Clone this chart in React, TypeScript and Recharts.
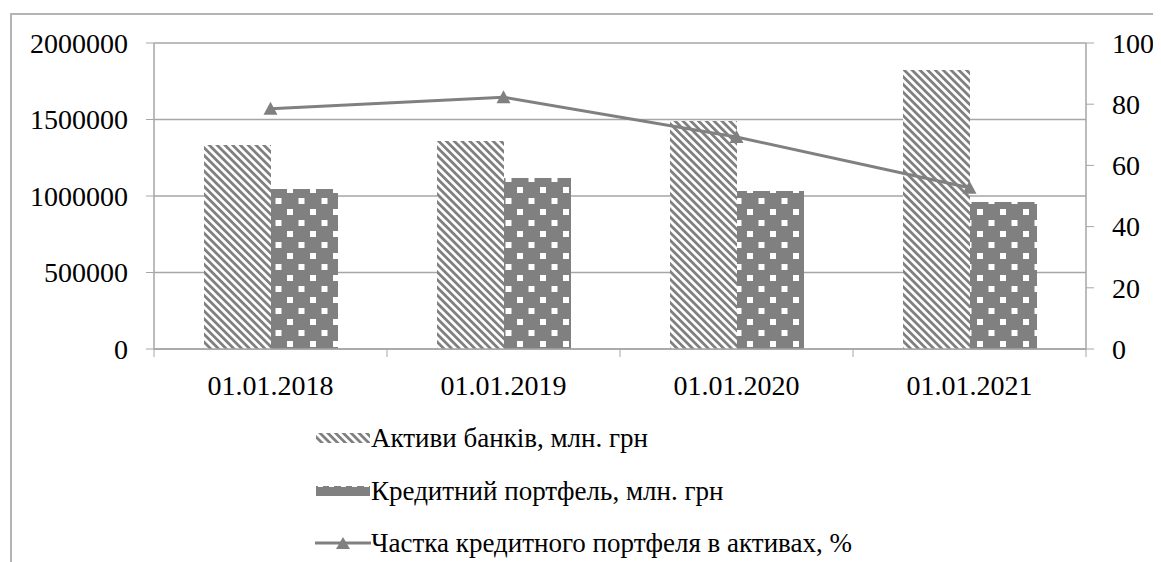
import { ComposedChart, Bar, Line, XAxis, YAxis, CartesianGrid } from "recharts";

const categories = ["01.01.2018", "01.01.2019", "01.01.2020", "01.01.2021"];
const assets = [1333000, 1359000, 1490000, 1823000];
const loans = [1046000, 1118000, 1033000, 961000];
const share = [78.5, 82.3, 69.3, 52.7];
const leftTicks = [0, 500000, 1000000, 1500000, 2000000];
const rightTicks = [0, 20, 40, 60, 80, 100];

const legendItems = [
  { key: "assets", label: "Активи банків, млн. грн", kind: "hatch" },
  { key: "loans", label: "Кредитний портфель, млн. грн", kind: "dots" },
  { key: "share", label: "Частка кредитного портфеля в активах, %", kind: "line" },
];

const data = categories.map((c, i) => ({
  date: c,
  assets: assets[i],
  loans: loans[i],
  share: share[i],
}));

const W = 1153;
const H = 554;
const PLOT_LEFT = 146;
const PLOT_RIGHT = 1078;
const PLOT_TOP = 35;
const PLOT_BOTTOM = 341;
const BAND = (PLOT_RIGHT - PLOT_LEFT) / categories.length;

const GRAY = "#808080";
const AXIS = "#a6a6a6";
const FONT = "Liberation Serif, DejaVu Serif, serif";

function XTick(props: any) {
  const { x, payload, index } = props;
  const isLast = index === categories.length - 1;
  return (
    <g>
      <line x1={x - BAND / 2} x2={x - BAND / 2} y1={PLOT_BOTTOM} y2={PLOT_BOTTOM + 8} stroke={AXIS} />
      {isLast && (
        <line x1={x + BAND / 2} x2={x + BAND / 2} y1={PLOT_BOTTOM} y2={PLOT_BOTTOM + 8} stroke={AXIS} />
      )}
      <text x={x} y={PLOT_BOTTOM + 36} dy="0.35em" textAnchor="middle" fill="#000" fontSize={28} style={{ fontFamily: FONT }}>
        {payload.value}
      </text>
    </g>
  );
}

function YTick(props: any) {
  const { x, y, payload, textAnchor } = props;
  return (
    <text x={x} y={y} dy="0.35em" textAnchor={textAnchor} fill="#000" fontSize={28} style={{ fontFamily: FONT }}>
      {payload.value}
    </text>
  );
}

function Triangle(props: any) {
  const { cx, cy } = props;
  if (cx == null || cy == null) return null;
  return <polygon points={`${cx - 7},${cy + 6} ${cx + 7},${cy + 6} ${cx},${cy - 7}`} fill={GRAY} />;
}

function LegendIcon({ kind }: { kind: string }) {
  if (kind === "line") {
    return (
      <svg width={56} height={16}>
        <line x1={0} x2={56} y1={8} y2={8} stroke={GRAY} strokeWidth={3} />
        <polygon points="21,14 35,14 28,2" fill={GRAY} />
      </svg>
    );
  }
  return (
    <svg width={56} height={16}>
      <rect x={1} y={3} width={54} height={10} fill={kind === "hatch" ? "url(#hatchLegend)" : "url(#dotsLegend)"} />
    </svg>
  );
}

export default function App() {
  return (
    <div style={{ position: "relative", width: W, height: H, fontFamily: FONT }}>
      <div
        style={{
          position: "absolute",
          left: 2,
          top: 5,
          width: W,
          height: H,
          borderTop: "2px solid #b4b4b4",
          borderLeft: "2px solid #b4b4b4",
        }}
      />
      <svg width={0} height={0} style={{ position: "absolute" }}>
        <defs>
          <pattern id="hatchLegend" patternUnits="userSpaceOnUse" width={5.5} height={5.5} patternTransform="rotate(-45)">
            <rect width={5.5} height={5.5} fill="#fff" />
            <rect width={2.8} height={5.5} fill={GRAY} />
          </pattern>
          <pattern id="dotsLegend" patternUnits="userSpaceOnUse" width={23} height={22}>
            <rect width={23} height={22} fill={GRAY} />
            <rect x={3} y={0} width={5} height={4} fill="#fff" />
            <rect x={14} y={0} width={5} height={4} fill="#fff" />
          </pattern>
        </defs>
      </svg>
      <div style={{ position: "absolute", left: 0, top: 0 }}>
        <ComposedChart
          width={W}
          height={H}
          data={data}
          margin={{ top: PLOT_TOP, right: W - PLOT_RIGHT - 60, bottom: H - PLOT_BOTTOM - 60, left: PLOT_LEFT - 140 }}
          barGap={0}
        >
          <defs>
            <pattern id="hatch" patternUnits="userSpaceOnUse" width={5.5} height={5.5} patternTransform="rotate(-45)">
              <rect width={5.5} height={5.5} fill="#fff" />
              <rect width={2.8} height={5.5} fill={GRAY} />
            </pattern>
            <pattern id="dots" patternUnits="userSpaceOnUse" width={23} height={22}>
              <rect width={23} height={22} fill={GRAY} />
              <rect x={3} y={3} width={6} height={6} fill="#fff" />
              <rect x={14.5} y={14} width={6} height={6} fill="#fff" />
            </pattern>
          </defs>
          <CartesianGrid yAxisId="left" vertical={false} stroke={AXIS} strokeWidth={1.5} />
          <XAxis
            dataKey="date"
            height={60}
            tick={<XTick />}
            tickLine={false}
            tickSize={0}
            tickMargin={0}
            axisLine={{ stroke: AXIS, strokeWidth: 1.5 }}
            interval={0}
          />
          <YAxis
            yAxisId="left"
            width={140}
            domain={[0, 2000000]}
            ticks={leftTicks}
            tickSize={8}
            tickMargin={18}
            tickLine={{ stroke: AXIS }}
            axisLine={{ stroke: AXIS, strokeWidth: 1.5 }}
            tick={<YTick />}
            interval={0}
          />
          <YAxis
            yAxisId="right"
            orientation="right"
            width={60}
            domain={[0, 100]}
            ticks={rightTicks}
            tickSize={8}
            tickMargin={18}
            tickLine={{ stroke: AXIS }}
            axisLine={{ stroke: AXIS, strokeWidth: 1.5 }}
            tick={<YTick />}
            interval={0}
          />
          <Bar yAxisId="left" dataKey="assets" fill="url(#hatch)" barSize={67} isAnimationActive={false} />
          <Bar yAxisId="left" dataKey="loans" fill="url(#dots)" barSize={67} isAnimationActive={false} />
          <Line
            yAxisId="right"
            dataKey="share"
            stroke={GRAY}
            strokeWidth={3}
            dot={<Triangle />}
            activeDot={false}
            isAnimationActive={false}
          />
        </ComposedChart>
      </div>
      {legendItems.map((item, i) => (
        <div
          key={item.key}
          style={{
            position: "absolute",
            left: 307,
            top: 416 + i * 52.5,
            height: 28,
            display: "flex",
            alignItems: "center",
            fontSize: 27,
            lineHeight: "28px",
            color: "#000",
            whiteSpace: "nowrap",
            fontFamily: FONT,
          }}
        >
          <LegendIcon kind={item.kind} />
          <span>{item.label}</span>
        </div>
      ))}
    </div>
  );
}
